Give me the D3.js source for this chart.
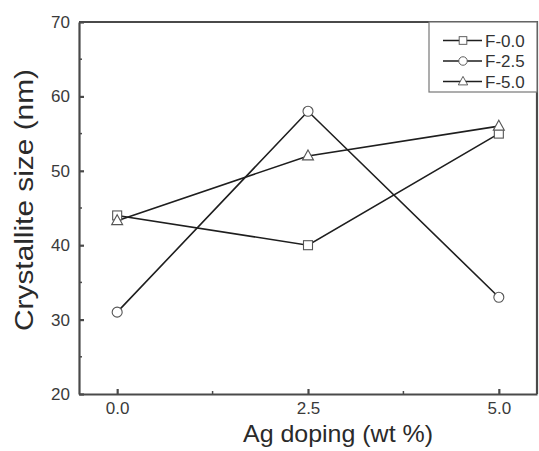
<!DOCTYPE html>
<meta charset="utf-8">
<style>
    body { margin: 0; background: #fff; }
    text { font-family: "Liberation Sans", Arial, sans-serif; }
    .axis path, .axis line { stroke: #4a4a4a; }
    .axis text { fill: #3a3a3a; font-size: 17px; }
</style>

<body>
    <svg width="539" height="451"></svg>
    <script src="https://d3js.org/d3.v7.min.js"></script>
    <script>
        // values
        var dopings = [0.0, 2.5, 5.0];
        var f00 = [44, 40, 55];
        var f25 = [31, 58, 33];
        var f50 = [43.3, 52, 56];
        var seriesNames = ["F-0.0", "F-2.5", "F-5.0"];
        var seriesShapes = ["square", "circle", "triangle"];
        var yTicks = [20, 30, 40, 50, 60, 70];
        var yMinor = [25, 35, 45, 55, 65];
        var xMinor = [1.25, 3.75];

        var svg = d3.select("svg"),
            margin = { top: 22, right: 2, bottom: 57, left: 79 },
            width = +svg.attr("width") - margin.left - margin.right,
            height = +svg.attr("height") - margin.top - margin.bottom;

        var x = d3.scaleLinear().domain([-0.5, 5.5]).range([0, width]),
            y = d3.scaleLinear().domain([20, 70]).range([height, 0]);

        var g = svg.append("g")
            .attr("transform", "translate(" + margin.left + "," + margin.top + ")");

        // minor ticks first
        g.selectAll(".ym").data(yMinor).enter().append("line")
            .attr("x1", 0).attr("x2", 3)
            .attr("y1", function (d) { return y(d); }).attr("y2", function (d) { return y(d); })
            .attr("stroke", "#4a4a4a").attr("stroke-width", 1.5);
        g.selectAll(".xm").data(xMinor).enter().append("line")
            .attr("y1", height).attr("y2", height - 3)
            .attr("x1", function (d) { return x(d); }).attr("x2", function (d) { return x(d); })
            .attr("stroke", "#4a4a4a").attr("stroke-width", 1.5);

        var xAxis = d3.axisBottom(x).tickValues(dopings).tickFormat(d3.format(".1f"))
            .tickSize(-5).tickPadding(8).tickSizeOuter(0);
        var yAxis = d3.axisLeft(y).tickValues(yTicks).tickFormat(d3.format("d"))
            .tickSize(-5).tickPadding(9).tickSizeOuter(0);

        var gx = g.append("g").attr("class", "axis")
            .attr("transform", "translate(0," + height + ")").call(xAxis);
        var gy = g.append("g").attr("class", "axis").call(yAxis);
        gx.selectAll("path, line").attr("stroke-width", 2.2);
        gy.selectAll("path, line").attr("stroke-width", 2.2);
        gy.selectAll("text").attr("font-size", 18);

        // top and right border
        g.append("path")
            .attr("d", "M0,0H" + width + "V" + height)
            .attr("fill", "none").attr("stroke", "#4a4a4a").attr("stroke-width", 2.2);

        var series = [f00, f25, f50];

        var line = d3.line()
            .x(function (d, i) { return x(dopings[i]); })
            .y(function (d) { return y(d); });

        series.forEach(function (vals) {
            g.append("path").datum(vals)
                .attr("d", line)
                .attr("fill", "none")
                .attr("stroke", "#1e1e1e")
                .attr("stroke-width", 1.6);
        });

        function marker(sel, shape) {
            if (shape === "square") {
                sel.append("rect").attr("x", -4.5).attr("y", -4.5).attr("width", 9).attr("height", 9);
            } else if (shape === "circle") {
                sel.append("circle").attr("r", 5);
            } else {
                sel.append("path").attr("d", "M0,-6L5.5,4L-5.5,4Z");
            }
            sel.selectAll("*").attr("fill", "#fff").attr("stroke", "#555").attr("stroke-width", 1.1);
        }

        series.forEach(function (vals, s) {
            vals.forEach(function (v, i) {
                var m = g.append("g")
                    .attr("transform", "translate(" + x(dopings[i]) + "," + y(v) + ")");
                marker(m, seriesShapes[s]);
            });
        });

        // legend
        var legend = g.append("g").attr("transform", "translate(" + (width - 108) + ",0)");
        legend.append("rect")
            .attr("width", 108).attr("height", 70)
            .attr("fill", "#fff").attr("stroke", "#777").attr("stroke-width", 1.2);
        seriesNames.forEach(function (name, i) {
            var row = legend.append("g").attr("transform", "translate(0," + (18.5 + i * 20.5) + ")");
            row.append("line").attr("x1", 14).attr("x2", 53)
                .attr("stroke", "#1e1e1e").attr("stroke-width", 1.6);
            var m = row.append("g").attr("transform", "translate(34,0) scale(0.85)");
            marker(m, seriesShapes[i]);
            row.append("text").attr("x", 56).attr("y", 6)
                .attr("font-size", 17).attr("fill", "#333").text(name);
        });

        // axis titles
        svg.append("text")
            .attr("x", 338).attr("y", 442)
            .attr("text-anchor", "middle")
            .attr("font-size", 24).attr("fill", "#2a2a2a")
            .attr("textLength", 190).attr("lengthAdjust", "spacingAndGlyphs")
            .text("Ag doping (wt %)");

        svg.append("text")
            .attr("transform", "translate(33,200) rotate(-90)")
            .attr("text-anchor", "middle")
            .attr("font-size", 26).attr("fill", "#2a2a2a")
            .attr("textLength", 262).attr("lengthAdjust", "spacingAndGlyphs")
            .text("Crystallite size (nm)");
    </script>
</body>
